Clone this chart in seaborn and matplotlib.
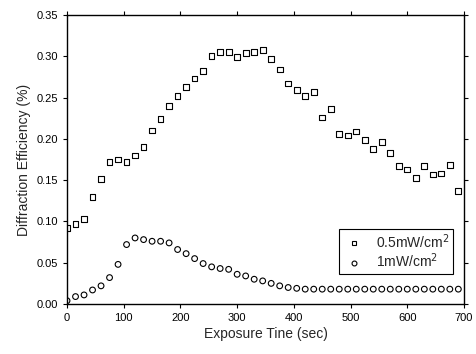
import seaborn as sns
import matplotlib.pyplot as plt
import pandas as pd

# exposure time (sec), one reading every 15 s
time_sec = [0, 15, 30, 45, 60, 75, 90, 105, 120, 135, 150, 165, 180, 195, 210, 225,
            240, 255, 270, 285, 300, 315, 330, 345, 360, 375, 390, 405, 420, 435,
            450, 465, 480, 495, 510, 525, 540, 555, 570, 585, 600, 615, 630, 645,
            660, 675, 690]

eff_05mw = [0.092, 0.097, 0.103, 0.130, 0.151, 0.172, 0.175, 0.172, 0.180, 0.190,
            0.210, 0.224, 0.240, 0.252, 0.263, 0.273, 0.282, 0.300, 0.305, 0.305,
            0.299, 0.304, 0.305, 0.308, 0.297, 0.284, 0.267, 0.259, 0.252, 0.257,
            0.226, 0.236, 0.206, 0.204, 0.209, 0.199, 0.188, 0.196, 0.183, 0.167,
            0.163, 0.153, 0.167, 0.157, 0.158, 0.168, 0.137]

eff_1mw = [0.004, 0.009, 0.011, 0.017, 0.022, 0.032, 0.048, 0.072, 0.080, 0.078,
           0.076, 0.076, 0.074, 0.066, 0.061, 0.055, 0.049, 0.045, 0.043, 0.042,
           0.036, 0.034, 0.030, 0.028, 0.025, 0.022, 0.020, 0.019, 0.018, 0.018,
           0.018, 0.018, 0.018, 0.018, 0.018, 0.018, 0.018, 0.018, 0.018, 0.018,
           0.018, 0.018, 0.018, 0.018, 0.018, 0.018, 0.018]

series_labels = ['0.5mW/cm$^2$', '1mW/cm$^2$']

sns.set_theme(style="ticks")
plt.rcParams['font.family'] = ['Liberation Sans', 'DejaVu Sans']

df = pd.DataFrame({
    'time': time_sec * 2,
    'eff': eff_05mw + eff_1mw,
    'series': [series_labels[0]] * len(time_sec) + [series_labels[1]] * len(time_sec),
})

fig = plt.figure(figsize=(4.76, 3.54), dpi=100)
ax = fig.add_axes([0.1408, 0.1412, 0.834, 0.8164])

sns.scatterplot(data=df, x='time', y='eff', style='series',
                markers={series_labels[0]: 's', series_labels[1]: 'o'},
                facecolor='none', edgecolor='black', linewidth=0.8, s=17,
                ax=ax, legend=True)

ax.set_xlim(0, 700)
ax.set_ylim(0, 0.35)
ax.set_xticks(range(0, 701, 100))
ax.set_yticks([0, 0.05, 0.10, 0.15, 0.20, 0.25, 0.30, 0.35])
ax.set_yticklabels(['0.00', '0.05', '0.10', '0.15', '0.20', '0.25', '0.30', '0.35'])
ax.set_xlabel('Exposure Tine (sec)', fontsize=10, labelpad=3)
ax.set_ylabel('Diffraction Efficiency (%)', fontsize=10)
ax.tick_params(labelsize=8, length=3, width=0.8, direction='out',
               top=True, right=True, color='black', labelcolor='black')
for sp in ax.spines.values():
    sp.set_visible(True)
    sp.set_color('black')
    sp.set_linewidth(1.0)

leg = ax.legend(loc='lower right', bbox_to_anchor=(0.972, 0.104), fontsize=10,
                frameon=True, fancybox=False, edgecolor='black', framealpha=1,
                handlelength=1.7, handletextpad=0.7, borderpad=0.25,
                labelspacing=0.05, borderaxespad=0, markerscale=0.85)
leg.get_frame().set_linewidth(0.8)
for h in leg.legend_handles:
    h.set_markerfacecolor('none')
    h.set_markeredgecolor('black')

fig.savefig('out.png', dpi=100)
